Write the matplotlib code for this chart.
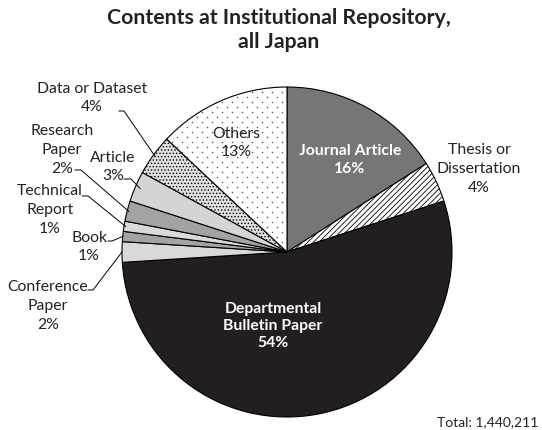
import numpy as np
import matplotlib.pyplot as plt

# data
labels = ['Journal Article', 'Thesis or\nDissertation', 'Departmental\nBulletin Paper',
          'Conference\nPaper', 'Book', 'Technical\nReport', 'Research\nPaper',
          'Article', 'Data or Dataset', 'Others']
shares = [16, 4, 54, 2, 1, 1, 2, 3, 4, 13]
total = '1,440,211'

colors = ['#767676', 'white', '#231f20', '#d9d9d9', '#a3a3a3', '#d9d9d9',
          '#a3a3a3', '#d4d4d4', '#e0e0e0', 'white']
hatches = [None, '//////', None, None, None, None, None, None, '.....', None]

plt.rcParams['font.family'] = ['Lato', 'DejaVu Sans']
plt.rcParams['hatch.linewidth'] = 0.6

W, H = 542, 431
cx, cy, R = 287., 253., 165.
fig = plt.figure(figsize=(W/100., H/100.), dpi=100)
ax = fig.add_axes([0, 0, 1, 1])

def p(x, y):
    # pixel -> data (radius 1)
    return ((x-cx)/R, (cy-y)/R)

wedges, _ = ax.pie(shares, startangle=90, counterclock=False, colors=colors,
                   radius=1, center=(0, 0),
                   wedgeprops=dict(edgecolor='black', linewidth=0.8))
for w, h in zip(wedges, hatches):
    if h:
        w.set_hatch(h)

# sparse dot texture for "Others"
step = 10./R
gx, gy = np.meshgrid(np.arange(-1, 1, step), np.arange(-1, 1, step/2.))
gx = gx + (np.round(gy/(step/2.)) % 2)*step/2.
dots = ax.scatter(gx.ravel(), gy.ravel(), s=1.2, color='#555555', lw=0, zorder=3)
dots.set_clip_path(wedges[9])

ax.set_xlim(p(0, 0)[0], p(W, 0)[0])
ax.set_ylim(p(0, H)[1], p(0, 0)[1])
ax.set_aspect('equal')
ax.axis('off')

def mid(i, r=1.0):
    w = wedges[i]
    a = np.deg2rad((w.theta1 + w.theta2)/2.)
    return r*np.cos(a), r*np.sin(a)

fs = 11.3
ls = 1.45
# inside labels
x, y = p(350, 160)
ax.text(x, y, 'Journal Article\n%d%%' % shares[0], color='white', fontweight='bold',
        ha='center', va='center', fontsize=fs, linespacing=ls, zorder=5)
x, y = p(273, 326)
ax.text(x, y, 'Departmental\nBulletin Paper\n%d%%' % shares[2], color='white',
        fontweight='bold', ha='center', va='center', fontsize=fs, linespacing=1.3,
        zorder=5)
x, y = p(236, 143)
ax.text(x, y, 'Others\n%d%%' % shares[9], ha='center', va='center', fontsize=fs,
        linespacing=ls, color='#222222', zorder=5)
x, y = p(479, 169)
ax.text(x, y, 'Thesis or\nDissertation\n%d%%' % shares[1], ha='center', va='center',
        fontsize=fs, linespacing=ls, color='#222222')

# outside labels with leader lines: index, text centre, line start, elbow
outside = [
    (8, (92, 98), (119, 112), (124, 112), 0.99),
    (7, (113, 167), (124, 180), (131, 180), 0.97),
    (6, (62, 150), (75, 171), (81, 171), 0.99),
    (5, (50, 210), (82, 197), (88, 197), 0.99),
    (4, (89, 247), (108, 242), (112, 242), 1.0),
    (3, (48, 306), (88, 291), (93, 291), 1.0),
]
for i, tpos, s, e, r in outside:
    x, y = p(*tpos)
    ax.text(x, y, '%s\n%d%%' % (labels[i], shares[i]), ha='center', va='center',
            fontsize=fs, linespacing=ls, color='#222222')
    mx, my = mid(i, r)
    xs = [p(*s)[0], p(*e)[0], mx]
    ys = [p(*s)[1], p(*e)[1], my]
    ax.plot(xs, ys, color='black', lw=0.7)

fig.text(0.515, 1 - 30/H, 'Contents at Institutional Repository,\nall Japan',
         ha='center', va='center', fontsize=15.3, fontweight='bold',
         linespacing=1.3, color='#222222')
fig.text(1 - 4/W, 1 - 422/H, 'Total: ' + total, ha='right', va='center',
         fontsize=10, color='#222222')

fig.savefig('out.png', dpi=100)
